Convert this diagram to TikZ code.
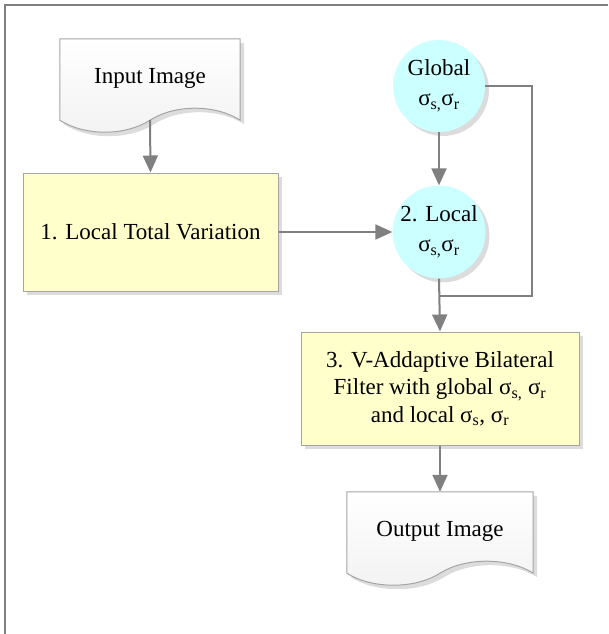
\documentclass[tikz,border=0pt]{standalone}
\usepackage{fontspec}
\setmainfont{Liberation Serif}
\usetikzlibrary{arrows.meta,positioning,shadows,backgrounds}
\definecolor{FluxoAmarelo}{RGB}{255,255,204}
\definecolor{FluxoCiano}{RGB}{204,255,255}
\definecolor{FluxoBorda}{RGB}{165,165,165}
\definecolor{FluxoSeta}{RGB}{128,128,128}
\definecolor{FluxoSombra}{RGB}{220,220,220}
\tikzset{
  sombra/.style={drop shadow={shadow xshift=4pt, shadow yshift=-4pt, fill=FluxoSombra, opacity=1}},
  bloco/.style={draw=FluxoBorda, fill=FluxoAmarelo, sombra, line width=1pt,
                align=center, font=\fontsize{23}{27.5}\selectfont, inner sep=4pt},
  circulo/.style={circle, draw=none, fill=FluxoCiano, sombra, minimum size=92pt,
                align=center, font=\fontsize{23}{30}\selectfont, inner sep=0pt},
  doctexto/.style={draw=none, align=center, font=\fontsize{23}{27}\selectfont,
                minimum width=180pt, minimum height=81pt, inner sep=0pt},
  documento/.style={draw=FluxoBorda, line width=1pt, top color=white, bottom color=black!5, sombra},
  seta/.style={-{Triangle[length=17pt, width=15pt]}, line width=2pt, FluxoSeta},
  linha/.style={line width=2pt, FluxoSeta},
}
% contorno de documento com base ondulada
\newcommand{\desenhadoc}[1]{%
  \path[documento] (#1.north west) -- (#1.north east) -- (#1.south east)
    .. controls +(-25,-16) and +(25,-16) .. (#1.south)
    .. controls +(-25,16) and +(25,16) .. (#1.south west) -- cycle;}
\begin{document}
\begin{tikzpicture}[x=1pt, y=-1pt]
  \useasboundingbox (0,0) rectangle (608,634);
  \draw[FluxoSeta, line width=1.5pt] (608,5) -- (5,5) -- (5,634);

  % Lado esquerdo: entrada e variacao total
  \node[doctexto] (inimg) at (150,79.5) {\raisebox{8pt}{Input Image}};
  \node[bloco, minimum width=255pt, minimum height=118pt] (lotv) at (150.5,232) {1. Local Total Variation};

  % Parametros sigma
  \node[circulo] (glob) at (439,86) {Global\\σ\textsubscript{s,}σ\textsubscript{r}};
  \node[circulo] (loc) at (439,232) {2. Local\\σ\textsubscript{s,}σ\textsubscript{r}};

  % Filtro bilateral e saida
  \node[bloco, minimum width=278pt, minimum height=113pt] (filt) at (440,388.5)
    {3. V-Addaptive Bilateral\\Filter with global σ\textsubscript{s,} σ\textsubscript{r}\\and local σ\textsubscript{s}, σ\textsubscript{r}};
  \node[doctexto, minimum width=186pt] (outimg) at (440,532.5) {\raisebox{8pt}{Output Image}};

  \begin{scope}[on background layer]
    \desenhadoc{inimg}
    \desenhadoc{outimg}
  \end{scope}

  \coordinate (junta) at (440,296);
  \draw[seta] (inimg.south) -- (lotv.north);
  \draw[seta] (lotv.east) -- (loc.west);
  \draw[seta] (glob.south) -- (loc.north);
  \draw[linha] (glob.east) -- ++(47,0) |- (junta);
  \draw[seta] (loc.south) -- (filt.north);
  \draw[seta] (filt.south) -- (outimg.north);
\end{tikzpicture}
\end{document}
